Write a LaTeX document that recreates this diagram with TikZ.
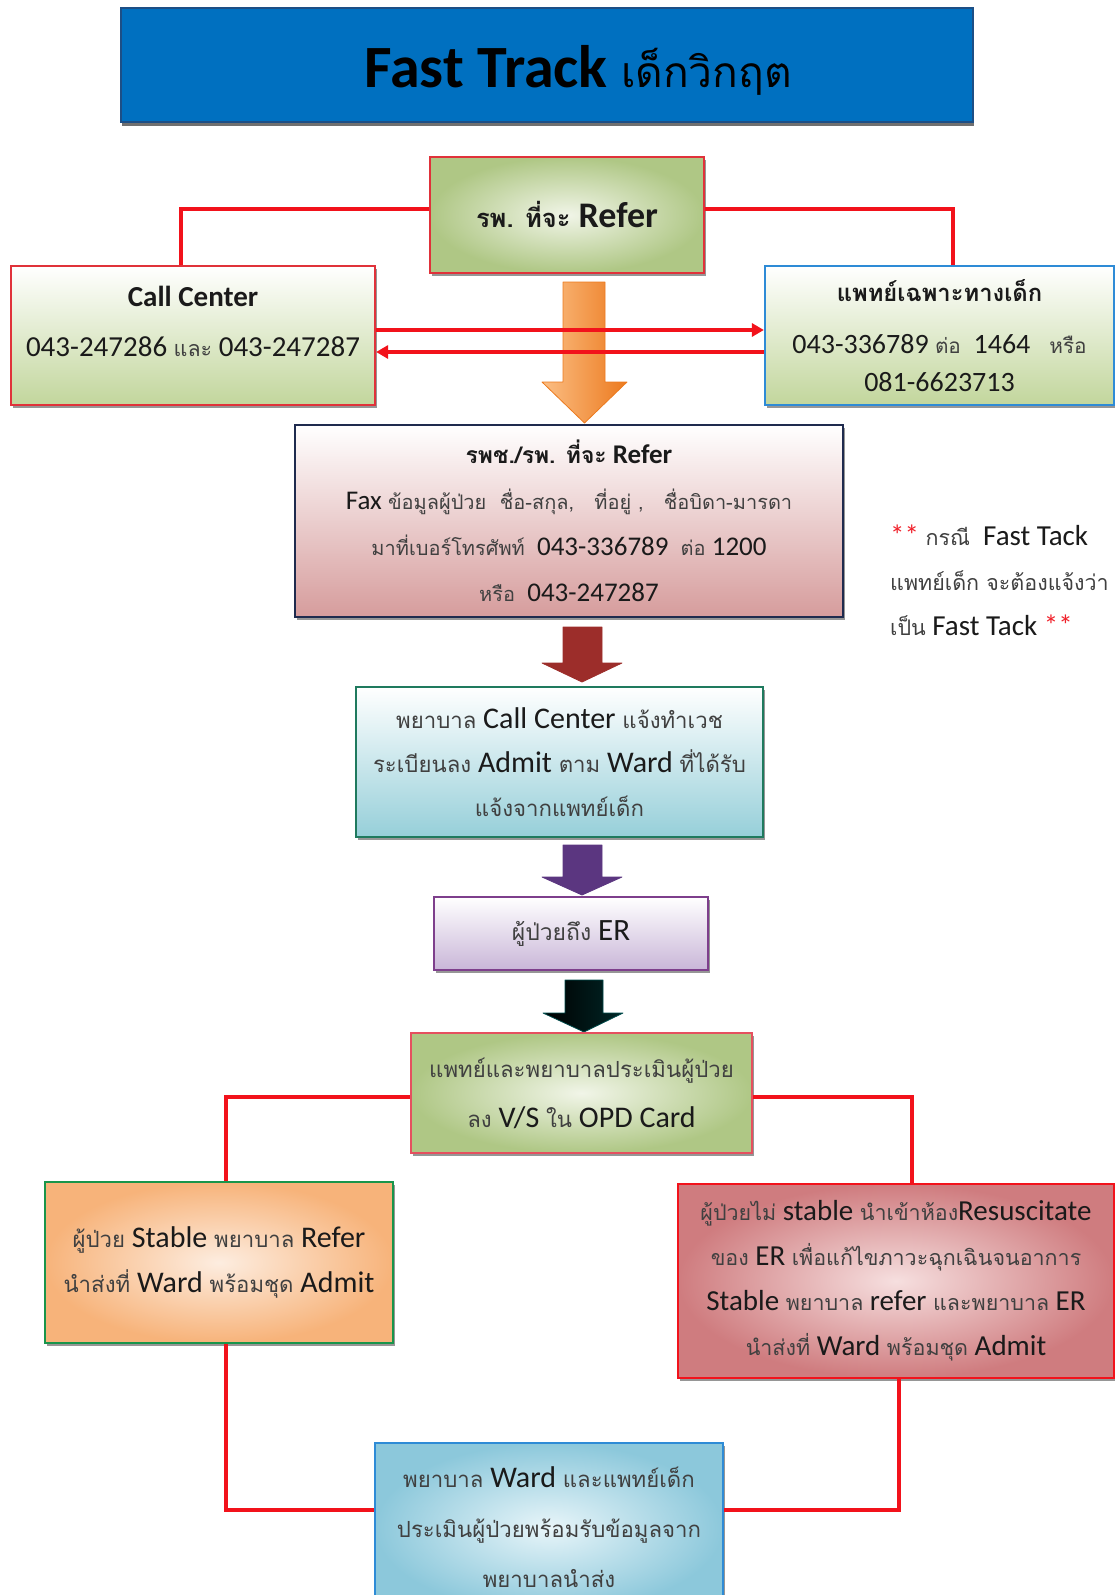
\documentclass[tikz,border=0pt]{standalone}
\usepackage{fontspec}
\setmainfont{Carlito}
\newfontfamily\thaifont[Script=Thai,Scale=0.74]{Loma}
\newfontfamily\thaiboldfont[Script=Thai,Scale=0.85]{Loma}
\usetikzlibrary{shadows,arrows.meta}

\definecolor{inkdark}{HTML}{1A1A1A}
\definecolor{thaigray}{HTML}{404040}
\definecolor{titleblue}{HTML}{0070C0}
\definecolor{titleedge}{HTML}{1D4F86}
\definecolor{linkred}{HTML}{F2121B}
\definecolor{starred}{HTML}{F0202A}
\definecolor{greeninner}{HTML}{F1F5E8}
\definecolor{greenouter}{HTML}{AFC785}
\definecolor{greenbottom}{HTML}{C2D69C}
\definecolor{pinkbottom}{HTML}{D69C9C}
\definecolor{tealbottom}{HTML}{96CFD9}
\definecolor{lilacbottom}{HTML}{C9B6D8}
\definecolor{orangeinner}{HTML}{FDEDE0}
\definecolor{orangeouter}{HTML}{F7B37A}
\definecolor{roseinner}{HTML}{F6DFDF}
\definecolor{roseouter}{HTML}{CF7C7F}
\definecolor{skyinner}{HTML}{E8F5F9}
\definecolor{skyouter}{HTML}{8CC8DB}
\definecolor{edgered}{HTML}{E0323A}
\definecolor{edgenavy}{HTML}{1F2B4E}
\definecolor{edgeblue}{HTML}{2E8BD6}
\definecolor{edgeteal}{HTML}{1F7A5E}
\definecolor{edgeviolet}{HTML}{7E3F8C}
\definecolor{edgepink}{HTML}{E5505F}
\definecolor{arrowredside}{HTML}{9C2D2A}
\definecolor{arrowredmid}{HTML}{D65550}
\definecolor{arrowvioletside}{HTML}{5B3680}
\definecolor{arrowvioletmid}{HTML}{9170BC}
\definecolor{arroworangelight}{HTML}{FBBE84}
\definecolor{arroworangedark}{HTML}{EC7A1E}

% Thai text runs: regular grey and bold black
\newcommand\T[1]{{\thaifont\color{thaigray}#1}}
\newcommand\TB[1]{{\thaiboldfont\bfseries\color{inkdark}#1}}

\begin{document}
\begin{tikzpicture}[x=1pt,y=-1pt,
  every node/.style={text=inkdark},
  box/.style={draw, line width=2.2pt, inner sep=0pt, align=center,
    drop shadow={shadow xshift=2pt, shadow yshift=-3pt, opacity=0.55, fill=black!75}},
  redline/.style={draw=linkred, line width=4.5pt},
  redarrow/.style={draw=linkred, line width=3.5pt, -{Triangle[length=12pt,width=13pt]}},
  blockshape/.style={line width=0.8pt, line join=round}
]
\useasboundingbox (0,0) rectangle (1115,1595);

% ---------- title banner ----------
\node[draw=titleedge, line width=2pt, fill=titleblue, minimum width=852pt, minimum height=114pt,
  drop shadow={shadow xshift=1pt, shadow yshift=-4pt, opacity=0.7, fill=black!80}]
  (banner) at (547,65) {};
\node[anchor=base, inner sep=0pt, font=\fontsize{60}{64}\selectfont\bfseries, text=black]
  (bannertext) at (578,88) {Fast Track {\fontsize{50}{56}\selectfont\thaiboldfont\mdseries เด็กวิกฤต}};

% ---------- orange block arrow (under the crossing red arrows) ----------
\path[blockshape, draw=arroworangedark, left color=arroworangelight, right color=arroworangedark]
  (563,282) -- (605,282) -- (605,382) -- (627,382) -- (584.5,423) -- (542,382) -- (563,382) -- cycle;

% ---------- top row ----------
\node[box, draw=edgered, inner color=greeninner, outer color=greenouter,
  minimum width=274pt, minimum height=116pt, font=\fontsize{36}{40}\selectfont]
  (hosp) at (567,215) {{\fontsize{30}{36}\selectfont\TB{รพ. ที่จะ}} \textbf{Refer}};

\node[box, draw=edgered, top color=white, bottom color=greenbottom,
  minimum width=364pt, minimum height=139pt] (call) at (193,335.5) {};
\node[align=center, inner sep=0pt, font=\fontsize{29}{50}\selectfont]
  (calltext) at (193,321) {\textbf{Call Center}\\043-247286 \T{และ} 043-247287};

\node[box, draw=edgeblue, top color=white, bottom color=greenbottom,
  minimum width=349pt, minimum height=139pt, font=\fontsize{28}{52}\selectfont]
  (ped) at (939.5,335.5) {\TB{แพทย์เฉพาะทางเด็ก}\\043-336789 \T{ต่อ}~ 1464~~ \T{หรือ}\\[-14pt]081-6623713};

\draw[redline] ([yshift=6pt]hosp.west) -| ([xshift=-12pt]call.north);
\draw[redline] ([yshift=6pt]hosp.east) -| ([xshift=13.5pt]ped.north);
\draw[redarrow] ([yshift=5.5pt]call.east) -- ([yshift=5.5pt]ped.west);
\draw[redarrow] ([yshift=-16.5pt]ped.west) -- ([yshift=-16.5pt]call.east);

% ---------- fax box ----------
\node[box, draw=edgenavy, top color=white, bottom color=pinkbottom,
  minimum width=548pt, minimum height=192pt, font=\fontsize{27}{46}\selectfont]
  (fax) at (569,521) {\TB{รพช./รพ. ที่จะ} \textbf{Refer}\\
  Fax \T{ข้อมูลผู้ป่วย~ ชื่อ-สกุล,~~ ที่อยู่ ,~~ ชื่อบิดา-มารดา}\\
  \T{มาที่เบอร์โทรศัพท์}~ 043-336789~ \T{ต่อ} 1200\\
  \T{หรือ}~ 043-247287};

\node[align=left, anchor=west, inner sep=0pt, font=\fontsize{29}{45}\selectfont]
  (note) at (890,580) {\textcolor{starred}{**} \T{กรณี}~ Fast Tack\\
  \T{แพทย์เด็ก จะต้องแจ้งว่า}\\
  \T{เป็น} Fast Tack \textcolor{starred}{**}};

% ---------- red block arrow ----------
\path[blockshape, draw=arrowredside, left color=arrowredside, middle color=arrowredmid, right color=arrowredside]
  (563,627) -- (602,627) -- (602,663) -- (622,663) -- (582,682) -- (542,663) -- (563,663) -- cycle;

% ---------- nurse call centre box ----------
\node[box, draw=edgeteal, top color=white, bottom color=tealbottom,
  minimum width=407pt, minimum height=150pt, font=\fontsize{30}{44}\selectfont]
  (nurse) at (559.5,762) {\T{พยาบาล} Call Center \T{แจ้งทำเวช}\\
  \T{ระเบียนลง} Admit \T{ตาม} Ward \T{ที่ได้รับ}\\
  \T{แจ้งจากแพทย์เด็ก}};

% ---------- purple block arrow ----------
\path[blockshape, draw=arrowvioletside, left color=arrowvioletside, middle color=arrowvioletmid, right color=arrowvioletside]
  (563,845) -- (602,845) -- (602,877) -- (622,877) -- (582,895) -- (542,877) -- (563,877) -- cycle;

% ---------- arrival box ----------
\node[box, draw=edgeviolet, top color=white, bottom color=lilacbottom,
  minimum width=274pt, minimum height=73pt, font=\fontsize{31}{36}\selectfont]
  (er) at (571,933.5) {\T{ผู้ป่วยถึง} ER};

% ---------- dark block arrow ----------
\path[blockshape, draw=teal!60!black, left color=black, middle color=black!85!green, right color=black!70!teal]
  (565,980) -- (603,980) -- (603,1013) -- (623,1013) -- (584,1032) -- (543,1013) -- (565,1013) -- cycle;

% ---------- assessment box ----------
\node[box, draw=edgepink, inner color=greeninner, outer color=greenouter,
  minimum width=341pt, minimum height=120pt, font=\fontsize{30}{50}\selectfont]
  (assess) at (581.5,1093) {\T{แพทย์และพยาบาลประเมินผู้ป่วย}\\\T{ลง} V/S \T{ใน} OPD Card};

% ---------- outcome boxes ----------
\node[box, draw=edgeteal!80!green, inner color=orangeinner, outer color=orangeouter,
  minimum width=348pt, minimum height=161pt, font=\fontsize{30}{45}\selectfont]
  (stable) at (219,1262.5) {\T{ผู้ป่วย} Stable \T{พยาบาล} Refer\\\T{นำส่งที่} Ward \T{พร้อมชุด} Admit};

\node[box, draw=linkred, inner color=roseinner, outer color=roseouter,
  minimum width=436pt, minimum height=194pt, font=\fontsize{29}{45}\selectfont]
  (unstable) at (896,1281) {\T{ผู้ป่วยไม่} stable \T{นำเข้าห้อง}Resuscitate\\
  \T{ของ} ER \T{เพื่อแก้ไขภาวะฉุกเฉินจนอาการ}\\
  Stable \T{พยาบาล} refer \T{และพยาบาล} ER\\
  \T{นำส่งที่} Ward \T{พร้อมชุด} Admit};

\node[box, draw=edgeblue, inner color=skyinner, outer color=skyouter,
  minimum width=348pt, minimum height=169pt, font=\fontsize{30}{50}\selectfont]
  (ward) at (549,1527.5) {\T{พยาบาล} Ward \T{และแพทย์เด็ก}\\
  \T{ประเมินผู้ป่วยพร้อมรับข้อมูลจาก}\\
  \T{พยาบาลนำส่ง}};

\draw[redline] ([yshift=-4pt]assess.west) -| ([xshift=7pt]stable.north);
\draw[redline] ([yshift=-4pt]assess.east) -| ([xshift=16pt]unstable.north);
\draw[redline] ([xshift=7pt]stable.south) |- ([yshift=17.5pt]ward.west);
\draw[redline] ([xshift=3pt]unstable.south) |- ([yshift=17.5pt]ward.east);
\end{tikzpicture}
\end{document}
